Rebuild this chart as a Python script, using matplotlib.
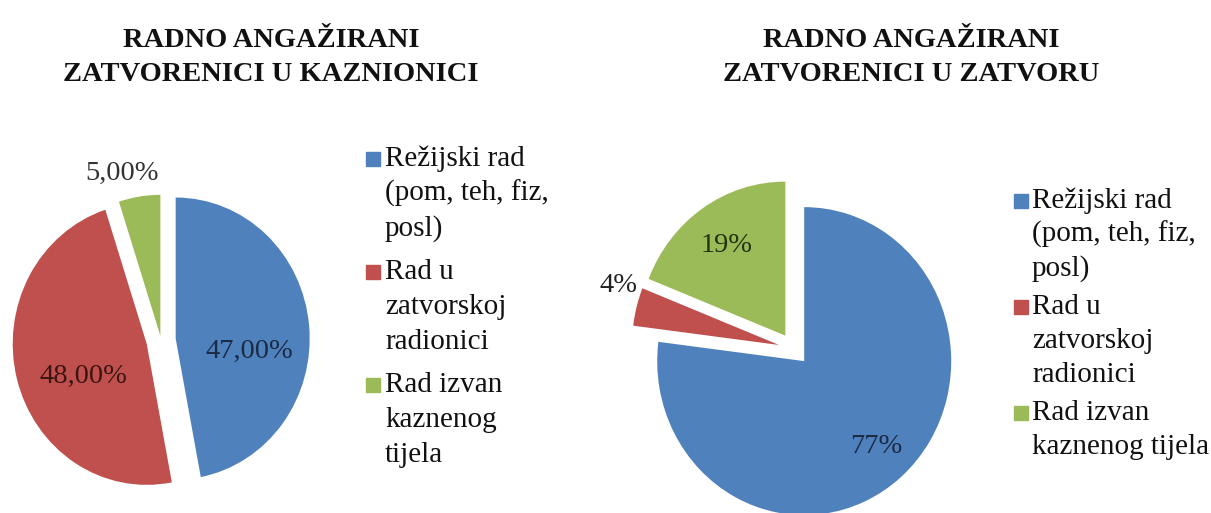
import matplotlib
matplotlib.use("Agg")
import matplotlib.pyplot as plt
from matplotlib.patches import Rectangle
import numpy as np

# data
vals_kaz = [47, 48, 5]
vals_zat = [77, 4, 19]
colors = ["#4F81BD", "#C0504D", "#9BBB59"]
pct_colors = ["#1B2A45", "#3A1512", "#333333"]
legend_kaz = ["Režijski rad\n(pom, teh, fiz,\nposl)", "Rad u\nzatvorskoj\nradionici", "Rad izvan\nkaznenog\ntijela"]
legend_zat = ["Režijski rad\n(pom, teh, fiz,\nposl)", "Rad u\nzatvorskoj\nradionici", "Rad izvan\nkaznenog tijela"]
title_kaz = ["RADNO ANGAŽIRANI", "ZATVORENICI U KAZNIONICI"]
title_zat = ["RADNO ANGAŽIRANI", "ZATVORENICI U ZATVORU"]

plt.rcParams['font.family'] = ['Liberation Serif', 'DejaVu Serif']

W, H = 1211, 513
fig = plt.figure(figsize=(W / 100, H / 100), dpi=100)
fig.patch.set_facecolor("white")


def fx(x):
    return x / W


def fy(y):
    return 1 - y / H


def draw_pie(vals, cx, cy, rx, ry, expl, dists, fmt, label_colors, turn=(0, 0, 0)):
    L = 1.6
    ax = fig.add_axes([(cx - L * rx) / W, (H - cy - L * ry) / H, 2 * L * rx / W, 2 * L * ry / H])
    wedges, _ = ax.pie(vals, colors=colors, startangle=90, counterclock=False,
                       explode=expl, radius=1,
                       wedgeprops=dict(linewidth=0))
    ax.set_xlim(-L, L)
    ax.set_ylim(-L, L)
    ax.set_aspect('auto')
    ax.axis('off')
    # percentage labels, placed along each wedge's mid angle
    for w, v, d, c, t in zip(wedges, vals, dists, label_colors, turn):
        ang = np.deg2rad((w.theta1 + w.theta2) / 2 + t)
        x = w.center[0] + d * w.r * np.cos(ang)
        y = w.center[1] + d * w.r * np.sin(ang)
        ax.text(x, y, fmt(v), ha='center', va='center', fontsize=20.5, color=c)
    return ax


def draw_title(lines, xc, baselines):
    for t, b in zip(lines, baselines):
        fig.text(fx(xc), fy(b), t, ha='center', va='baseline', fontsize=20.5,
                 fontweight='bold', color='#111111')


def draw_legend(labels, x_sq, x_txt, first_base, step, gap):
    b = first_base
    for lab, col in zip(labels, colors):
        lines = lab.split("\n")
        fig.patches.append(Rectangle((fx(x_sq), fy(b)), 14 / W, 14 / H,
                                     transform=fig.transFigure, color=col))
        for ln in lines:
            fig.text(fx(x_txt), fy(b), ln, ha='left', va='baseline', fontsize=21, color='#111111')
            b += step
        b += gap


# left chart
draw_pie(vals_kaz, 161, 340, 134, 141, [0.11, 0.11, 0.03], [0.56, 0.525, 1.19],
         lambda v: f"{v:.2f}%".replace(".", ","), pct_colors, turn=(-15, 12, 5))
draw_title(title_kaz, 271, [47, 81])
draw_legend(legend_kaz, 366, 385, 166, 35, 8)

# right chart
draw_pie(vals_zat, 794, 349, 147, 154, [0.105] * 3, [0.74, 1.16, 0.71],
         lambda v: f"{v:.0f}%", ["#1B2A45", "#222222", "#24330F"], turn=(0, -5, 0))
draw_title(title_zat, 911, [47, 81])
draw_legend(legend_zat, 1014, 1032, 208, 34, 4)

fig.savefig("out.png", dpi=100)
